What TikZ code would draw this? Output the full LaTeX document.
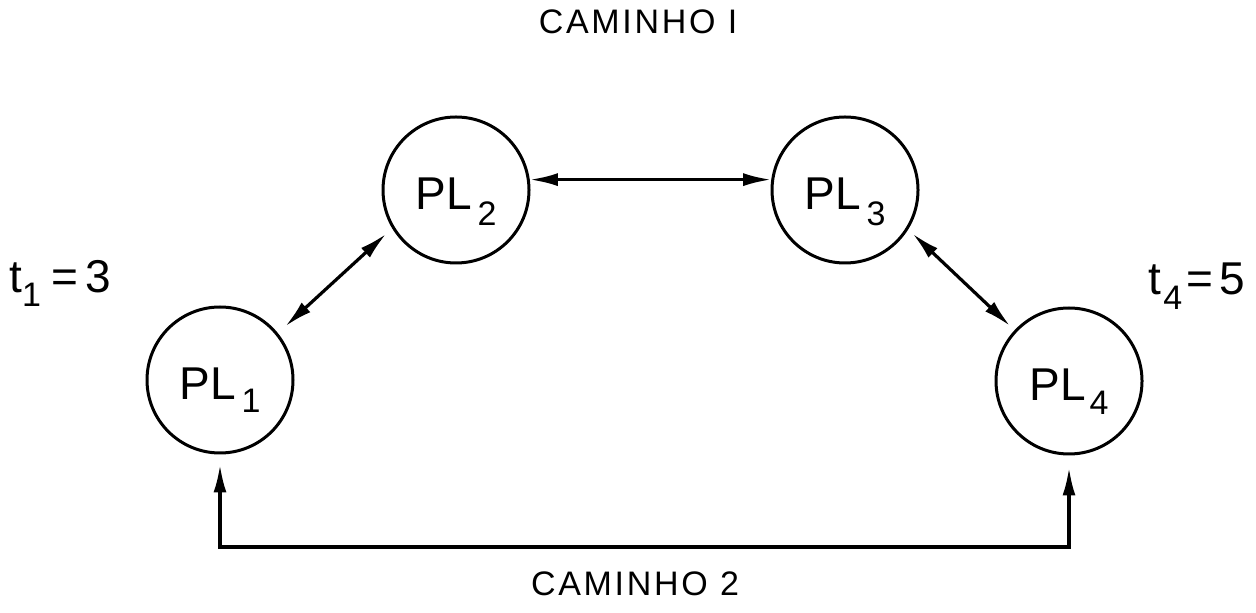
\documentclass[tikz,border=0pt]{standalone}
\usepackage{fontspec}
\setmainfont{Liberation Sans}
\newfontfamily\capfont[LetterSpace=8]{Liberation Sans}
\usetikzlibrary{arrows.meta}
\newcommand{\subdig}[2]{\raisebox{-#1}{\fontsize{17}{17}\selectfont #2}}
\tikzset{
  plnode/.style={circle, draw, line width=1.5pt, minimum size=73pt, inner sep=0pt,
    font=\fontsize{23}{23}\selectfont, text height=16.5pt, text depth=0pt},
  arr/.style={line width=1.6pt, {Latex[length=14pt,width=6.5pt]}-{Latex[length=14pt,width=6.5pt]}},
  captext/.style={font=\capfont\fontsize{17}{17}\selectfont, inner sep=0pt},
  tlabel/.style={font=\fontsize{23}{23}\selectfont, inner sep=0pt}
}
\begin{document}
\begin{tikzpicture}[x=0.5pt, y=-0.5pt]
\useasboundingbox (0,0) rectangle (1256,613);
\node[captext] (c1) at (638,22) {CAMINHO I};
\node[captext] (c2) at (635,584) {CAMINHO 2};
\node[plnode] (p1) at (220,380) {\raisebox{-1.5pt}{PL\hspace{3pt}\subdig{6.5pt}{1}}};
\node[plnode] (p2) at (456,190) {\raisebox{-1.5pt}{PL\hspace{3pt}\subdig{8pt}{2}}};
\node[plnode] (p3) at (845,190) {\raisebox{-1.5pt}{PL\hspace{3pt}\subdig{8pt}{3}}};
\node[plnode] (p4) at (1069,381) {\raisebox{-1.5pt}{PL\hspace{2pt}\subdig{7pt}{4}}};
\node[tlabel, anchor=base west] (t1) at (9,293) {t\subdig{7pt}{1}\hspace{5pt}=\hspace{4pt}3};
\node[tlabel, anchor=base east] (t4) at (1245,295) {t\hspace{1pt}\subdig{7.5pt}{4}\hspace{2pt}=\hspace{3pt}5};
\draw[arr, shorten <=5pt, shorten >=4pt] (p1.39) -- (p2.211);
\draw[arr] (p2.8) -- (p3.172);
\draw[arr, shorten <=3pt, shorten >=3pt] (p3.-32) -- (p4.137);
\coordinate (m) at (645,547);
\draw[arr, shorten <=5pt, shorten >=6pt] (p1.south) |- (m) -| (p4.south);
\end{tikzpicture}
\end{document}
